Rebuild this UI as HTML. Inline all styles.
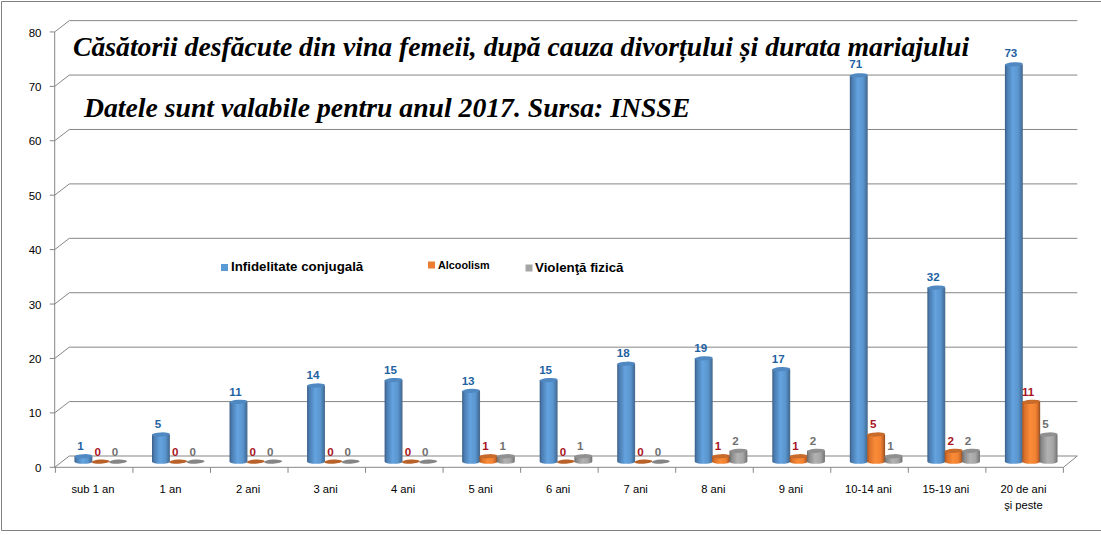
<!DOCTYPE html>
<html><head><meta charset="utf-8"><style>
html,body{margin:0;padding:0;background:#fff;width:1101px;height:535px;overflow:hidden;position:relative}

</style></head><body>
<svg width="1101" height="535" viewBox="0 0 1101 535" style="position:absolute;left:0;top:0">
<defs>
<linearGradient id="gb" x1="0" x2="1" y1="0" y2="0">
<stop offset="0" stop-color="#3b5c85"/><stop offset="0.12" stop-color="#4a7cb0"/><stop offset="0.45" stop-color="#64a3e0"/><stop offset="0.75" stop-color="#5a95cd"/><stop offset="0.9" stop-color="#4878a8"/><stop offset="1" stop-color="#4a6888"/>
</linearGradient>
<linearGradient id="go" x1="0" x2="1" y1="0" y2="0">
<stop offset="0" stop-color="#a8521c"/><stop offset="0.12" stop-color="#d8702a"/><stop offset="0.45" stop-color="#fa8b38"/><stop offset="0.75" stop-color="#f08232"/><stop offset="0.9" stop-color="#c8662a"/><stop offset="1" stop-color="#8c4a1c"/>
</linearGradient>
<linearGradient id="gg" x1="0" x2="1" y1="0" y2="0">
<stop offset="0" stop-color="#6a6a6a"/><stop offset="0.12" stop-color="#8a8a8a"/><stop offset="0.45" stop-color="#b2b2b2"/><stop offset="0.75" stop-color="#a6a6a6"/><stop offset="0.9" stop-color="#888888"/><stop offset="1" stop-color="#6e6e6e"/>
</linearGradient>
</defs>
<path d="M1.5 530.5V1.5H1101M1.5 530.5H1101" fill="none" stroke="#808080" stroke-width="1"/>
<path d="M69.3 456.00H1077.3M54.7 467.30L69.3 456.00M49.7 467.30H54.7" fill="none" stroke="#868686" stroke-width="1"/>
<text x="41.5" y="471.90" text-anchor="end" font-family="Liberation Sans" font-size="11.5" fill="#000">0</text>
<path d="M69.3 401.58H1077.3M54.7 412.88L69.3 401.58M49.7 412.88H54.7" fill="none" stroke="#868686" stroke-width="1"/>
<text x="41.5" y="417.48" text-anchor="end" font-family="Liberation Sans" font-size="11.5" fill="#000">10</text>
<path d="M69.3 347.16H1077.3M54.7 358.46L69.3 347.16M49.7 358.46H54.7" fill="none" stroke="#868686" stroke-width="1"/>
<text x="41.5" y="363.06" text-anchor="end" font-family="Liberation Sans" font-size="11.5" fill="#000">20</text>
<path d="M69.3 292.74H1077.3M54.7 304.04L69.3 292.74M49.7 304.04H54.7" fill="none" stroke="#868686" stroke-width="1"/>
<text x="41.5" y="308.64" text-anchor="end" font-family="Liberation Sans" font-size="11.5" fill="#000">30</text>
<path d="M69.3 238.32H1077.3M54.7 249.62L69.3 238.32M49.7 249.62H54.7" fill="none" stroke="#868686" stroke-width="1"/>
<text x="41.5" y="254.22" text-anchor="end" font-family="Liberation Sans" font-size="11.5" fill="#000">40</text>
<path d="M69.3 183.90H1077.3M54.7 195.20L69.3 183.90M49.7 195.20H54.7" fill="none" stroke="#868686" stroke-width="1"/>
<text x="41.5" y="199.80" text-anchor="end" font-family="Liberation Sans" font-size="11.5" fill="#000">50</text>
<path d="M69.3 129.48H1077.3M54.7 140.78L69.3 129.48M49.7 140.78H54.7" fill="none" stroke="#868686" stroke-width="1"/>
<text x="41.5" y="145.38" text-anchor="end" font-family="Liberation Sans" font-size="11.5" fill="#000">60</text>
<path d="M69.3 75.06H1077.3M54.7 86.36L69.3 75.06M49.7 86.36H54.7" fill="none" stroke="#868686" stroke-width="1"/>
<text x="41.5" y="90.96" text-anchor="end" font-family="Liberation Sans" font-size="11.5" fill="#000">70</text>
<path d="M69.3 20.64H1077.3M54.7 31.94L69.3 20.64M49.7 31.94H54.7" fill="none" stroke="#868686" stroke-width="1"/>
<text x="41.5" y="36.54" text-anchor="end" font-family="Liberation Sans" font-size="11.5" fill="#000">80</text>
<path d="M54.7 31.94V467.8" fill="none" stroke="#868686" stroke-width="1"/>
<path d="M54.7 467.30H1063.4L1077.3 456.00" fill="none" stroke="#868686" stroke-width="1"/>
<path d="M55.40 467.30V472.80" fill="none" stroke="#868686" stroke-width="1"/>
<path d="M132.94 467.30V472.80" fill="none" stroke="#868686" stroke-width="1"/>
<path d="M210.48 467.30V472.80" fill="none" stroke="#868686" stroke-width="1"/>
<path d="M288.02 467.30V472.80" fill="none" stroke="#868686" stroke-width="1"/>
<path d="M365.55 467.30V472.80" fill="none" stroke="#868686" stroke-width="1"/>
<path d="M443.09 467.30V472.80" fill="none" stroke="#868686" stroke-width="1"/>
<path d="M520.63 467.30V472.80" fill="none" stroke="#868686" stroke-width="1"/>
<path d="M598.17 467.30V472.80" fill="none" stroke="#868686" stroke-width="1"/>
<path d="M675.71 467.30V472.80" fill="none" stroke="#868686" stroke-width="1"/>
<path d="M753.25 467.30V472.80" fill="none" stroke="#868686" stroke-width="1"/>
<path d="M830.78 467.30V472.80" fill="none" stroke="#868686" stroke-width="1"/>
<path d="M908.32 467.30V472.80" fill="none" stroke="#868686" stroke-width="1"/>
<path d="M985.86 467.30V472.80" fill="none" stroke="#868686" stroke-width="1"/>
<path d="M1063.40 467.30V472.80" fill="none" stroke="#868686" stroke-width="1"/>
<text x="92.97" y="492.5" text-anchor="middle" font-family="Liberation Sans" font-size="11.2" fill="#000">sub 1 an</text>
<text x="170.51" y="492.5" text-anchor="middle" font-family="Liberation Sans" font-size="11.2" fill="#000">1 an</text>
<text x="248.05" y="492.5" text-anchor="middle" font-family="Liberation Sans" font-size="11.2" fill="#000">2 ani</text>
<text x="325.58" y="492.5" text-anchor="middle" font-family="Liberation Sans" font-size="11.2" fill="#000">3 ani</text>
<text x="403.12" y="492.5" text-anchor="middle" font-family="Liberation Sans" font-size="11.2" fill="#000">4 ani</text>
<text x="480.66" y="492.5" text-anchor="middle" font-family="Liberation Sans" font-size="11.2" fill="#000">5 ani</text>
<text x="558.20" y="492.5" text-anchor="middle" font-family="Liberation Sans" font-size="11.2" fill="#000">6 ani</text>
<text x="635.74" y="492.5" text-anchor="middle" font-family="Liberation Sans" font-size="11.2" fill="#000">7 ani</text>
<text x="713.28" y="492.5" text-anchor="middle" font-family="Liberation Sans" font-size="11.2" fill="#000">8 ani</text>
<text x="790.82" y="492.5" text-anchor="middle" font-family="Liberation Sans" font-size="11.2" fill="#000">9 ani</text>
<text x="868.35" y="492.5" text-anchor="middle" font-family="Liberation Sans" font-size="11.2" fill="#000">10-14 ani</text>
<text x="945.89" y="492.5" text-anchor="middle" font-family="Liberation Sans" font-size="11.2" fill="#000">15-19 ani</text>
<text x="1023.43" y="492.5" text-anchor="middle" font-family="Liberation Sans" font-size="11.2" fill="#000">20 de ani</text>
<text x="1023.43" y="508.5" text-anchor="middle" font-family="Liberation Sans" font-size="11.2" fill="#000">şi peste</text>
<path d="M74.45 456.26V461.70A8.95 2.1 0 0 0 92.35 461.70V456.26Z" fill="url(#gb)"/>
<ellipse cx="83.40" cy="456.26" rx="8.95" ry="2.1" fill="#5088c2" transform="rotate(-3 83.40 456.26)"/>
<text x="80.40" y="450.24" text-anchor="middle" font-family="Liberation Sans" font-weight="bold" font-size="11.6" fill="#1f62a2">1</text>
<ellipse cx="100.75" cy="461.70" rx="8.95" ry="2.1" fill="#b8622a" transform="rotate(-3 100.75 461.70)"/>
<text x="97.75" y="455.70" text-anchor="middle" font-family="Liberation Sans" font-weight="bold" font-size="11.6" fill="#a8141e">0</text>
<ellipse cx="118.10" cy="461.70" rx="8.95" ry="2.1" fill="#858585" transform="rotate(-3 118.10 461.70)"/>
<text x="115.10" y="455.70" text-anchor="middle" font-family="Liberation Sans" font-weight="bold" font-size="11.6" fill="#707070">0</text>
<path d="M151.99 434.49V461.70A8.95 2.1 0 0 0 169.89 461.70V434.49Z" fill="url(#gb)"/>
<ellipse cx="160.94" cy="434.49" rx="8.95" ry="2.1" fill="#5088c2" transform="rotate(-3 160.94 434.49)"/>
<text x="157.94" y="428.42" text-anchor="middle" font-family="Liberation Sans" font-weight="bold" font-size="11.6" fill="#1f62a2">5</text>
<ellipse cx="178.29" cy="461.70" rx="8.95" ry="2.1" fill="#b8622a" transform="rotate(-3 178.29 461.70)"/>
<text x="175.29" y="455.70" text-anchor="middle" font-family="Liberation Sans" font-weight="bold" font-size="11.6" fill="#a8141e">0</text>
<ellipse cx="195.64" cy="461.70" rx="8.95" ry="2.1" fill="#858585" transform="rotate(-3 195.64 461.70)"/>
<text x="192.64" y="455.70" text-anchor="middle" font-family="Liberation Sans" font-weight="bold" font-size="11.6" fill="#707070">0</text>
<path d="M229.53 401.84V461.70A8.95 2.1 0 0 0 247.43 461.70V401.84Z" fill="url(#gb)"/>
<ellipse cx="238.48" cy="401.84" rx="8.95" ry="2.1" fill="#5088c2" transform="rotate(-3 238.48 401.84)"/>
<text x="235.48" y="395.67" text-anchor="middle" font-family="Liberation Sans" font-weight="bold" font-size="11.6" fill="#1f62a2">11</text>
<ellipse cx="255.83" cy="461.70" rx="8.95" ry="2.1" fill="#b8622a" transform="rotate(-3 255.83 461.70)"/>
<text x="252.83" y="455.70" text-anchor="middle" font-family="Liberation Sans" font-weight="bold" font-size="11.6" fill="#a8141e">0</text>
<ellipse cx="273.18" cy="461.70" rx="8.95" ry="2.1" fill="#858585" transform="rotate(-3 273.18 461.70)"/>
<text x="270.18" y="455.70" text-anchor="middle" font-family="Liberation Sans" font-weight="bold" font-size="11.6" fill="#707070">0</text>
<path d="M307.07 385.51V461.70A8.95 2.1 0 0 0 324.97 461.70V385.51Z" fill="url(#gb)"/>
<ellipse cx="316.02" cy="385.51" rx="8.95" ry="2.1" fill="#5088c2" transform="rotate(-3 316.02 385.51)"/>
<text x="313.02" y="379.30" text-anchor="middle" font-family="Liberation Sans" font-weight="bold" font-size="11.6" fill="#1f62a2">14</text>
<ellipse cx="333.37" cy="461.70" rx="8.95" ry="2.1" fill="#b8622a" transform="rotate(-3 333.37 461.70)"/>
<text x="330.37" y="455.70" text-anchor="middle" font-family="Liberation Sans" font-weight="bold" font-size="11.6" fill="#a8141e">0</text>
<ellipse cx="350.72" cy="461.70" rx="8.95" ry="2.1" fill="#858585" transform="rotate(-3 350.72 461.70)"/>
<text x="347.72" y="455.70" text-anchor="middle" font-family="Liberation Sans" font-weight="bold" font-size="11.6" fill="#707070">0</text>
<path d="M384.60 380.07V461.70A8.95 2.1 0 0 0 402.50 461.70V380.07Z" fill="url(#gb)"/>
<ellipse cx="393.55" cy="380.07" rx="8.95" ry="2.1" fill="#5088c2" transform="rotate(-3 393.55 380.07)"/>
<text x="390.55" y="373.84" text-anchor="middle" font-family="Liberation Sans" font-weight="bold" font-size="11.6" fill="#1f62a2">15</text>
<ellipse cx="410.90" cy="461.70" rx="8.95" ry="2.1" fill="#b8622a" transform="rotate(-3 410.90 461.70)"/>
<text x="407.90" y="455.70" text-anchor="middle" font-family="Liberation Sans" font-weight="bold" font-size="11.6" fill="#a8141e">0</text>
<ellipse cx="428.25" cy="461.70" rx="8.95" ry="2.1" fill="#858585" transform="rotate(-3 428.25 461.70)"/>
<text x="425.25" y="455.70" text-anchor="middle" font-family="Liberation Sans" font-weight="bold" font-size="11.6" fill="#707070">0</text>
<path d="M462.14 390.95V461.70A8.95 2.1 0 0 0 480.04 461.70V390.95Z" fill="url(#gb)"/>
<ellipse cx="471.09" cy="390.95" rx="8.95" ry="2.1" fill="#5088c2" transform="rotate(-3 471.09 390.95)"/>
<text x="468.09" y="384.76" text-anchor="middle" font-family="Liberation Sans" font-weight="bold" font-size="11.6" fill="#1f62a2">13</text>
<path d="M479.49 456.26V461.70A8.95 2.1 0 0 0 497.39 461.70V456.26Z" fill="url(#go)"/>
<ellipse cx="488.44" cy="456.26" rx="8.95" ry="2.1" fill="#c86a2a" transform="rotate(-3 488.44 456.26)"/>
<text x="485.44" y="450.24" text-anchor="middle" font-family="Liberation Sans" font-weight="bold" font-size="11.6" fill="#a8141e">1</text>
<path d="M496.84 456.26V461.70A8.95 2.1 0 0 0 514.74 461.70V456.26Z" fill="url(#gg)"/>
<ellipse cx="505.79" cy="456.26" rx="8.95" ry="2.1" fill="#909090" transform="rotate(-3 505.79 456.26)"/>
<text x="502.79" y="450.24" text-anchor="middle" font-family="Liberation Sans" font-weight="bold" font-size="11.6" fill="#707070">1</text>
<path d="M539.68 380.07V461.70A8.95 2.1 0 0 0 557.58 461.70V380.07Z" fill="url(#gb)"/>
<ellipse cx="548.63" cy="380.07" rx="8.95" ry="2.1" fill="#5088c2" transform="rotate(-3 548.63 380.07)"/>
<text x="545.63" y="373.84" text-anchor="middle" font-family="Liberation Sans" font-weight="bold" font-size="11.6" fill="#1f62a2">15</text>
<ellipse cx="565.98" cy="461.70" rx="8.95" ry="2.1" fill="#b8622a" transform="rotate(-3 565.98 461.70)"/>
<text x="562.98" y="455.70" text-anchor="middle" font-family="Liberation Sans" font-weight="bold" font-size="11.6" fill="#a8141e">0</text>
<path d="M574.38 456.26V461.70A8.95 2.1 0 0 0 592.28 461.70V456.26Z" fill="url(#gg)"/>
<ellipse cx="583.33" cy="456.26" rx="8.95" ry="2.1" fill="#909090" transform="rotate(-3 583.33 456.26)"/>
<text x="580.33" y="450.24" text-anchor="middle" font-family="Liberation Sans" font-weight="bold" font-size="11.6" fill="#707070">1</text>
<path d="M617.22 363.74V461.70A8.95 2.1 0 0 0 635.12 461.70V363.74Z" fill="url(#gb)"/>
<ellipse cx="626.17" cy="363.74" rx="8.95" ry="2.1" fill="#5088c2" transform="rotate(-3 626.17 363.74)"/>
<text x="623.17" y="357.47" text-anchor="middle" font-family="Liberation Sans" font-weight="bold" font-size="11.6" fill="#1f62a2">18</text>
<ellipse cx="643.52" cy="461.70" rx="8.95" ry="2.1" fill="#b8622a" transform="rotate(-3 643.52 461.70)"/>
<text x="640.52" y="455.70" text-anchor="middle" font-family="Liberation Sans" font-weight="bold" font-size="11.6" fill="#a8141e">0</text>
<ellipse cx="660.87" cy="461.70" rx="8.95" ry="2.1" fill="#858585" transform="rotate(-3 660.87 461.70)"/>
<text x="657.87" y="455.70" text-anchor="middle" font-family="Liberation Sans" font-weight="bold" font-size="11.6" fill="#707070">0</text>
<path d="M694.76 358.30V461.70A8.95 2.1 0 0 0 712.66 461.70V358.30Z" fill="url(#gb)"/>
<ellipse cx="703.71" cy="358.30" rx="8.95" ry="2.1" fill="#5088c2" transform="rotate(-3 703.71 358.30)"/>
<text x="700.71" y="352.02" text-anchor="middle" font-family="Liberation Sans" font-weight="bold" font-size="11.6" fill="#1f62a2">19</text>
<path d="M712.11 456.26V461.70A8.95 2.1 0 0 0 730.01 461.70V456.26Z" fill="url(#go)"/>
<ellipse cx="721.06" cy="456.26" rx="8.95" ry="2.1" fill="#c86a2a" transform="rotate(-3 721.06 456.26)"/>
<text x="718.06" y="450.24" text-anchor="middle" font-family="Liberation Sans" font-weight="bold" font-size="11.6" fill="#a8141e">1</text>
<path d="M729.46 450.82V461.70A8.95 2.1 0 0 0 747.36 461.70V450.82Z" fill="url(#gg)"/>
<ellipse cx="738.41" cy="450.82" rx="8.95" ry="2.1" fill="#909090" transform="rotate(-3 738.41 450.82)"/>
<text x="735.41" y="444.79" text-anchor="middle" font-family="Liberation Sans" font-weight="bold" font-size="11.6" fill="#707070">2</text>
<path d="M772.30 369.19V461.70A8.95 2.1 0 0 0 790.20 461.70V369.19Z" fill="url(#gb)"/>
<ellipse cx="781.25" cy="369.19" rx="8.95" ry="2.1" fill="#5088c2" transform="rotate(-3 781.25 369.19)"/>
<text x="778.25" y="362.93" text-anchor="middle" font-family="Liberation Sans" font-weight="bold" font-size="11.6" fill="#1f62a2">17</text>
<path d="M789.65 456.26V461.70A8.95 2.1 0 0 0 807.55 461.70V456.26Z" fill="url(#go)"/>
<ellipse cx="798.60" cy="456.26" rx="8.95" ry="2.1" fill="#c86a2a" transform="rotate(-3 798.60 456.26)"/>
<text x="795.60" y="450.24" text-anchor="middle" font-family="Liberation Sans" font-weight="bold" font-size="11.6" fill="#a8141e">1</text>
<path d="M807.00 450.82V461.70A8.95 2.1 0 0 0 824.90 461.70V450.82Z" fill="url(#gg)"/>
<ellipse cx="815.95" cy="450.82" rx="8.95" ry="2.1" fill="#909090" transform="rotate(-3 815.95 450.82)"/>
<text x="812.95" y="444.79" text-anchor="middle" font-family="Liberation Sans" font-weight="bold" font-size="11.6" fill="#707070">2</text>
<path d="M849.83 75.32V461.70A8.95 2.1 0 0 0 867.73 461.70V75.32Z" fill="url(#gb)"/>
<ellipse cx="858.78" cy="75.32" rx="8.95" ry="2.1" fill="#5088c2" transform="rotate(-3 858.78 75.32)"/>
<text x="855.78" y="68.25" text-anchor="middle" font-family="Liberation Sans" font-weight="bold" font-size="11.6" fill="#1f62a2">71</text>
<path d="M867.18 434.49V461.70A8.95 2.1 0 0 0 885.08 461.70V434.49Z" fill="url(#go)"/>
<ellipse cx="876.13" cy="434.49" rx="8.95" ry="2.1" fill="#c86a2a" transform="rotate(-3 876.13 434.49)"/>
<text x="873.13" y="428.42" text-anchor="middle" font-family="Liberation Sans" font-weight="bold" font-size="11.6" fill="#a8141e">5</text>
<path d="M884.53 456.26V461.70A8.95 2.1 0 0 0 902.43 461.70V456.26Z" fill="url(#gg)"/>
<ellipse cx="893.48" cy="456.26" rx="8.95" ry="2.1" fill="#909090" transform="rotate(-3 893.48 456.26)"/>
<text x="890.48" y="450.24" text-anchor="middle" font-family="Liberation Sans" font-weight="bold" font-size="11.6" fill="#707070">1</text>
<path d="M927.37 287.56V461.70A8.95 2.1 0 0 0 945.27 461.70V287.56Z" fill="url(#gb)"/>
<ellipse cx="936.32" cy="287.56" rx="8.95" ry="2.1" fill="#5088c2" transform="rotate(-3 936.32 287.56)"/>
<text x="933.32" y="281.08" text-anchor="middle" font-family="Liberation Sans" font-weight="bold" font-size="11.6" fill="#1f62a2">32</text>
<path d="M944.72 450.82V461.70A8.95 2.1 0 0 0 962.62 461.70V450.82Z" fill="url(#go)"/>
<ellipse cx="953.67" cy="450.82" rx="8.95" ry="2.1" fill="#c86a2a" transform="rotate(-3 953.67 450.82)"/>
<text x="950.67" y="444.79" text-anchor="middle" font-family="Liberation Sans" font-weight="bold" font-size="11.6" fill="#a8141e">2</text>
<path d="M962.07 450.82V461.70A8.95 2.1 0 0 0 979.97 461.70V450.82Z" fill="url(#gg)"/>
<ellipse cx="971.02" cy="450.82" rx="8.95" ry="2.1" fill="#909090" transform="rotate(-3 971.02 450.82)"/>
<text x="968.02" y="444.79" text-anchor="middle" font-family="Liberation Sans" font-weight="bold" font-size="11.6" fill="#707070">2</text>
<path d="M1004.91 64.43V461.70A8.95 2.1 0 0 0 1022.81 461.70V64.43Z" fill="url(#gb)"/>
<ellipse cx="1013.86" cy="64.43" rx="8.95" ry="2.1" fill="#5088c2" transform="rotate(-3 1013.86 64.43)"/>
<text x="1010.86" y="57.34" text-anchor="middle" font-family="Liberation Sans" font-weight="bold" font-size="11.6" fill="#1f62a2">73</text>
<path d="M1022.26 401.84V461.70A8.95 2.1 0 0 0 1040.16 461.70V401.84Z" fill="url(#go)"/>
<ellipse cx="1031.21" cy="401.84" rx="8.95" ry="2.1" fill="#c86a2a" transform="rotate(-3 1031.21 401.84)"/>
<text x="1028.21" y="395.67" text-anchor="middle" font-family="Liberation Sans" font-weight="bold" font-size="11.6" fill="#a8141e">11</text>
<path d="M1039.61 434.49V461.70A8.95 2.1 0 0 0 1057.51 461.70V434.49Z" fill="url(#gg)"/>
<ellipse cx="1048.56" cy="434.49" rx="8.95" ry="2.1" fill="#909090" transform="rotate(-3 1048.56 434.49)"/>
<text x="1045.56" y="428.42" text-anchor="middle" font-family="Liberation Sans" font-weight="bold" font-size="11.6" fill="#707070">5</text>
<rect x="221" y="264" width="7" height="7" fill="#5b9bd5"/>
<text x="231" y="271" font-family="Liberation Sans" font-weight="bold" font-size="13.3" fill="#000">Infidelitate conjugală</text>
<rect x="428" y="261.5" width="7" height="7" fill="#ed7d31"/>
<text x="438" y="269" font-family="Liberation Sans" font-weight="bold" font-size="10.8" fill="#000">Alcoolism</text>
<rect x="525.5" y="264.5" width="7" height="7" fill="#a5a5a5"/>
<text x="535" y="271.5" font-family="Liberation Sans" font-weight="bold" font-size="13.3" fill="#000">Violenţă fizică</text>
<text x="73" y="55.5" font-family="Liberation Serif" font-weight="bold" font-style="italic" font-size="27.7" fill="#000">Căsătorii desfăcute din vina femeii, după cauza divorțului și durata mariajului</text>
<text x="84" y="116.8" font-family="Liberation Serif" font-weight="bold" font-style="italic" font-size="27.7" fill="#000">Datele sunt valabile pentru anul 2017. Sursa: INSSE</text>
</svg>
</body></html>
